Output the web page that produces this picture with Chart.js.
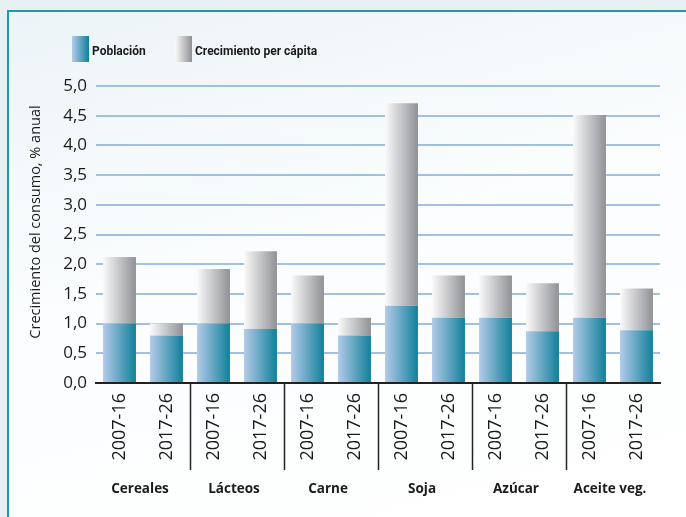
<!DOCTYPE html>
<html>
<head>
<meta charset="utf-8">
<script src="https://cdn.jsdelivr.net/npm/chart.js@4"></script>
<style>
  body { margin: 0; width: 686px; height: 517px; background: #e7f0f3; overflow: hidden; }
  .frame {
    position: absolute; left: 7px; top: 10px; right: -10px; bottom: -10px;
    border-left: 2px solid #2298ae; border-top: 2px solid #2298ae;
    background: linear-gradient(165deg, #ecf4f7 0%, #fbfdfe 45%, #ffffff 100%);
  }
  canvas { position: absolute; left: 0; top: 0; }
</style>
</head>
<body>
<div class="frame"></div>
<canvas id="myChart" width="686" height="517"></canvas>
<script>
const periods = ['2007-16', '2017-26', '2007-16', '2017-26', '2007-16', '2017-26',
                 '2007-16', '2017-26', '2007-16', '2017-26', '2007-16', '2017-26'];
const groups = ['Cereales', 'Lácteos', 'Carne', 'Soja', 'Azúcar', 'Aceite veg.'];
const poblacion = [1.0, 0.8, 1.0, 0.91, 1.0, 0.8, 1.3, 1.1, 1.1, 0.87, 1.1, 0.89];
const perCapita = [1.12, 0.2, 0.92, 1.31, 0.81, 0.3, 3.41, 0.71, 0.71, 0.81, 3.41, 0.7];
const yTicks = [0, 0.5, 1, 1.5, 2, 2.5, 3, 3.5, 4, 4.5, 5];
const yTitle = 'Crecimiento del consumo, % anual';

const FONT = '"Open Sans", "Noto Sans", sans-serif';
const BAR_PCT = 0.7;
const popColors = ['#b4cbe9', '#10809a'];
const pcColors = ['#fafafa', '#8f9195'];

function barGradient(colors) {
  return function (ctx) {
    const chart = ctx.chart;
    const xs = chart.scales.x;
    if (ctx.type !== 'data' || !xs) return colors[1];
    const cx = xs.getPixelForValue(ctx.dataIndex);
    const w = xs.width / periods.length * BAR_PCT;
    if (!isFinite(cx) || !isFinite(w)) return colors[1];
    const g = chart.ctx.createLinearGradient(cx - w / 2, 0, cx + w / 2, 0);
    g.addColorStop(0, colors[0]);
    g.addColorStop(1, colors[1]);
    return g;
  };
}

const extras = {
  id: 'extras',
  afterDraw(chart) {
    const c = chart.ctx;
    const xs = chart.scales.x;
    const area = chart.chartArea;
    c.save();
    // group separators
    c.strokeStyle = '#222';
    c.lineWidth = 1.5;
    for (let k = 1; k < groups.length; k++) {
      const x = Math.round((xs.getPixelForValue(2 * k - 1) + xs.getPixelForValue(2 * k)) / 2) + 0.5;
      c.beginPath();
      c.moveTo(x, area.bottom);
      c.lineTo(x, 470);
      c.stroke();
    }
    // group names
    c.fillStyle = '#1a1a1a';
    c.font = 'bold 13.5px ' + FONT;
    c.textAlign = 'center';
    c.textBaseline = 'middle';
    groups.forEach((g, k) => {
      const x = (xs.getPixelForValue(2 * k) + xs.getPixelForValue(2 * k + 1)) / 2;
      c.fillText(g, x - 3, 489);
    });
    // y axis title
    c.save();
    c.translate(36, 222);
    c.rotate(-Math.PI / 2);
    c.font = '14.5px ' + FONT;
    c.fillText(yTitle, 0, 0);
    c.restore();
    // legend
    const items = [
      { label: 'Población', colors: popColors, x: 72 },
      { label: 'Crecimiento per cápita', colors: pcColors, x: 175 }
    ];
    c.textAlign = 'left';
    c.font = 'bold 12px Roboto, ' + FONT;
    items.forEach(it => {
      const g = c.createLinearGradient(it.x, 0, it.x + 17, 0);
      g.addColorStop(0, it.colors[0]);
      g.addColorStop(1, it.colors[1]);
      c.fillStyle = g;
      c.fillRect(it.x, 36, 17, 26);
      c.fillStyle = '#1a1a1a';
      c.fillText(it.label, it.x + 20, 52);
    });
    c.restore();
  }
};

new Chart(document.getElementById('myChart'), {
  type: 'bar',
  data: {
    labels: periods,
    datasets: [
      { label: 'Población', data: poblacion, backgroundColor: barGradient(popColors),
        barPercentage: BAR_PCT, categoryPercentage: 1 },
      { label: 'Crecimiento per cápita', data: perCapita, backgroundColor: barGradient(pcColors),
        barPercentage: BAR_PCT, categoryPercentage: 1 }
    ]
  },
  options: {
    responsive: false,
    animation: false,
    events: [],
    layout: { padding: { left: 0, top: 86, right: 26, bottom: 0 } },
    plugins: { legend: { display: false }, tooltip: { enabled: false } },
    scales: {
      x: {
        stacked: true,
        afterFit: s => { s.height = 134; },
        grid: { display: false, drawTicks: false },
        border: { display: true, color: '#222', width: 2 },
        ticks: {
          autoSkip: false, minRotation: 90, maxRotation: 90, padding: 10,
          color: '#1a1a1a', font: { family: FONT, size: 18 }
        }
      },
      y: {
        stacked: true,
        min: 0, max: 5,
        afterFit: s => { s.width = 96; },
        afterBuildTicks: s => { s.ticks = yTicks.map(v => ({ value: v })); },
        border: { display: false },
        grid: {
          drawTicks: false, lineWidth: 2,
          color: c => c.tick && c.tick.value === 0 ? 'rgba(0,0,0,0)' : '#a1c0e6'
        },
        ticks: {
          padding: 9, color: '#1a1a1a', font: { family: FONT, size: 17 },
          callback: v => v.toFixed(1).replace('.', ',')
        }
      }
    }
  },
  plugins: [extras]
});
</script>
</body>
</html>
